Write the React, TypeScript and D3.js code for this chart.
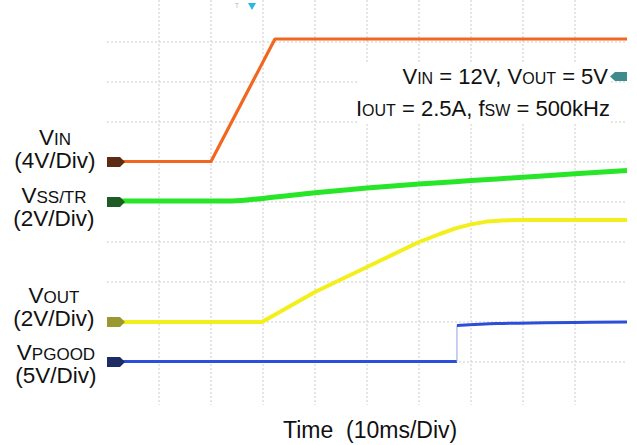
import React from "react";
import * as d3 from "d3";

// ---- Data (time in ms, values in volts) ----
const vinTime = [0, 20, 32.3, 100];
const vinVolts = [0.05, 0.05, 12.3, 12.3];

const ssTime = [0, 24, 30, 40, 50, 60, 70, 80, 90, 100];
const ssVolts = [0.05, 0.05, 0.18, 0.46, 0.7, 0.9, 1.07, 1.24, 1.41, 1.57];

const voutTime = [0, 29.8, 40, 50, 60, 64, 67, 70, 73, 76, 80, 100];
const voutVolts = [0, 0, 1.5, 2.75, 4.0, 4.4, 4.68, 4.88, 5.02, 5.08, 5.1, 5.1];

const pgLowTime = [0, 67.3];
const pgLowVolts = [0.05, 0.05];
const pgHighTime = [67.3, 75, 100];
const pgHighVolts = [4.55, 4.8, 5.0];

const xDivs = d3.range(0, 11); // 10 time divisions
const yDivs = d3.range(1, 10); // horizontal grid lines

const WIDTH = 637;
const HEIGHT = 445;
const FONT = "'Liberation Sans', Arial, Helvetica, sans-serif";

const x = d3.scaleLinear().domain([0, 100]).range([107, 627]);
const yDiv = d3.scaleLinear().domain([0, 10]).range([402, 2]);
const xDiv = d3.scaleLinear().domain([0, 10]).range([107, 627]);

type Channel = { offset: number; perDiv: number };
const chVin: Channel = { offset: 6, perDiv: 4 };
const chSs: Channel = { offset: 5, perDiv: 2 };
const chVout: Channel = { offset: 2, perDiv: 2 };
const chPg: Channel = { offset: 1, perDiv: 5 };

const yOf = (ch: Channel, v: number) => yDiv(ch.offset + v / ch.perDiv);

function linePath(ch: Channel, t: number[], v: number[], smooth = false) {
  const pts: [number, number][] = t.map((tt, i) => [tt, v[i]]);
  const gen = d3
    .line<[number, number]>()
    .x((d) => x(d[0]))
    .y((d) => yOf(ch, d[1]));
  if (smooth) gen.curve(d3.curveMonotoneX);
  return gen(pts) || "";
}

function Tag({ cy, color }: { cy: number; color: string }) {
  const x0 = 107;
  const w = 18;
  const h = 10;
  const p = `M${x0},${cy - h / 2} L${x0 + w - 5},${cy - h / 2} L${x0 + w},${cy} L${x0 + w - 5},${cy + h / 2} L${x0},${cy + h / 2} Z`;
  return <path d={p} fill={color} />;
}

export default function App() {
  const big = 22.5;
  const sub = 17;
  return (
    <svg
      width={WIDTH}
      height={HEIGHT}
      style={{ position: "absolute", left: 0, top: 0, background: "#fff" }}
      fontFamily={FONT}
    >
      <rect x={0} y={0} width={WIDTH} height={HEIGHT} fill="#fff" />
      {/* grid */}
      <g stroke="#cbcbcb" strokeWidth={1} strokeDasharray="2 2">
        {xDivs.slice(1, 10).map((d) => (
          <line key={"v" + d} x1={xDiv(d)} x2={xDiv(d)} y1={0} y2={405} />
        ))}
        {yDivs.map((d) => (
          <line key={"h" + d} x1={107} x2={627} y1={yDiv(d)} y2={yDiv(d)} />
        ))}
      </g>
      {/* annotation box */}
      <rect x={357} y={62} width={254} height={62} fill="#fff" />
      <text x={608} y={84} fontSize={22} textAnchor="end" fill="#111">
        V<tspan fontSize={16}>IN</tspan> = 12V, V<tspan fontSize={16}>OUT</tspan> = 5V
      </text>
      <text x={610} y={116} fontSize={22} textAnchor="end" fill="#111">
        I<tspan fontSize={16}>OUT</tspan> = 2.5A, f<tspan fontSize={16}>SW</tspan> = 500kHz
      </text>
      {/* right-side teal marker */}
      <path d="M610,76.5 L615,72 L627,72 L627,81 L615,81 Z" fill="#3f8a8c" />
      {/* trigger marker */}
      <path d="M248,3 L256,3 L252,10 Z" fill="#2bb6e3" />
      <text x={237} y={8} fontSize={7} fill="#bbb" textAnchor="middle">T</text>

      {/* traces */}
      <path d={linePath(chSs, ssTime, ssVolts, true)} fill="none" stroke="#27e627" strokeWidth={5} strokeLinejoin="round" />
      <path d={linePath(chVout, voutTime, voutVolts)} fill="none" stroke="#f3ef1c" strokeWidth={4} strokeLinejoin="round" />
      <path d={linePath(chVin, vinTime, vinVolts)} fill="none" stroke="#f2671f" strokeWidth={3.2} strokeLinejoin="round" />
      <path d={linePath(chPg, pgLowTime, pgLowVolts)} fill="none" stroke="#2d4fd8" strokeWidth={3} />
      <line
        x1={x(pgHighTime[0])}
        x2={x(pgHighTime[0])}
        y1={yOf(chPg, pgLowVolts[1])}
        y2={yOf(chPg, pgHighVolts[0])}
        stroke="#8fa0e6"
        strokeWidth={1}
      />
      <path d={linePath(chPg, pgHighTime, pgHighVolts, true)} fill="none" stroke="#2d4fd8" strokeWidth={3} />

      {/* channel tags */}
      <Tag cy={yOf(chVin, 0)} color="#5e2c14" />
      <Tag cy={yOf(chSs, 0)} color="#1f5b24" />
      <Tag cy={yOf(chVout, 0)} color="#9a9830" />
      <Tag cy={yOf(chPg, 0)} color="#1d2c62" />

      {/* left labels */}
      <g fill="#111" textAnchor="middle">
        <text x={55} y={145} fontSize={big}>
          V<tspan fontSize={sub}>IN</tspan>
        </text>
        <text x={55} y={168} fontSize={big}>(4V/Div)</text>
        <text x={54} y={203} fontSize={big}>
          V<tspan fontSize={sub}>SS/TR</tspan>
        </text>
        <text x={54} y={226} fontSize={big}>(2V/Div)</text>
        <text x={54} y={303} fontSize={big}>
          V<tspan fontSize={sub}>OUT</tspan>
        </text>
        <text x={54} y={326} fontSize={big}>(2V/Div)</text>
        <text x={56} y={360} fontSize={big}>
          V<tspan fontSize={sub}>PGOOD</tspan>
        </text>
        <text x={56} y={383} fontSize={big}>(5V/Div)</text>
      </g>
      {/* x label */}
      <text y={438} fontSize={23} fill="#111">
        <tspan x={283}>Time</tspan>
        <tspan x={346}>(10ms/Div)</tspan>
      </text>
    </svg>
  );
}
